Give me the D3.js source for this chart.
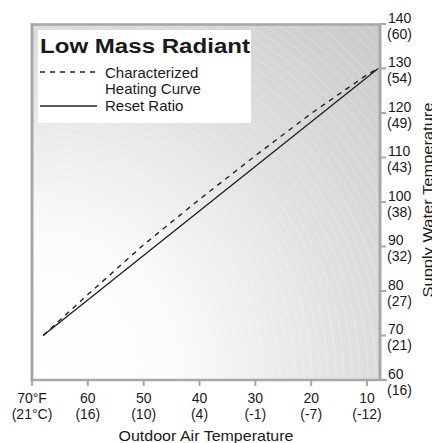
<!DOCTYPE html>
<html><head><meta charset="utf-8">
<script src="https://cdn.jsdelivr.net/npm/d3@7"></script>
<style>body{margin:0;background:#fff}svg{display:block}text{font-family:"Liberation Sans",Arial,Helvetica,sans-serif;fill:#1a1a1a}</style>
</head><body>
<svg id="c" width="432" height="443"></svg>
<script>
const xTicksF = [70,60,50,40,30,20,10];
const xTicksC = ["(21°C)","(16)","(10)","(4)","(-1)","(-7)","(-12)"];
const xTicksTop = ["70°F","60","50","40","30","20","10"];
const yTicksF = [60,70,80,90,100,110,120,130,140];
const yTicksC = ["(16)","(21)","(27)","(32)","(38)","(43)","(49)","(54)","(60)"];
const curveOAT = [68,60,50,40,30,20,10,8];
const curveSWT = [70,79.2,90.4,100.6,110.4,119.9,128.6,130];
const resetOAT = [68,8];
const resetSWT = [70,130];
const titleText = "Low Mass Radiant";
const legendLabels = [["Characterized","Heating Curve"],["Reset Ratio"]];

const svg = d3.select("#c");
const x = d3.scaleLinear().domain([70,10]).range([32,367]);
const y = d3.scaleLinear().domain([60,140]).range([380,24]);
const L=32,R=380,T=24,B=380;

const defs = svg.append("defs");
const g = defs.append("radialGradient").attr("id","bg").attr("gradientUnits","userSpaceOnUse")
  .attr("cx",L).attr("cy",B).attr("r",500);
[[0,"#ffffff"],[0.28,"#fcfcfc"],[0.68,"#dddddd"],[1,"#c9c9c9"]].forEach(s=>g.append("stop").attr("offset",s[0]).attr("stop-color",s[1]));
defs.append("clipPath").attr("id","clip").append("rect").attr("x",L).attr("y",T).attr("width",R-L).attr("height",B-T);

svg.append("rect").attr("x",L).attr("y",T).attr("width",R-L).attr("height",B-T).attr("fill","url(#bg)");
svg.append("g").attr("clip-path","url(#clip)").selectAll("circle").data(d3.range(8,520,8)).join("circle")
  .attr("cx",L).attr("cy",B).attr("r",d=>d).attr("fill","none").attr("stroke","#fff").attr("stroke-opacity",0.35).attr("stroke-width",0.7);

// frame
const fc="#a8a8a8";
svg.append("line").attr("x1",L).attr("x2",L).attr("y1",T-1).attr("y2",B).attr("stroke",fc).attr("stroke-width",3);
svg.append("line").attr("x1",L).attr("x2",R+1).attr("y1",T+0.5).attr("y2",T+0.5).attr("stroke",fc).attr("stroke-width",2.5);
svg.append("line").attr("x1",R).attr("x2",R).attr("y1",T-1).attr("y2",B).attr("stroke",fc).attr("stroke-width",3);
svg.append("line").attr("x1",L-1.5).attr("x2",387).attr("y1",B).attr("y2",B).attr("stroke",fc).attr("stroke-width",2.5);

// x ticks
const xg = svg.append("g");
xTicksF.forEach((v,i)=>{
  xg.append("line").attr("x1",x(v)).attr("x2",x(v)).attr("y1",B).attr("y2",B+6).attr("stroke",fc).attr("stroke-width",2);
  xg.append("text").attr("x",x(v)).attr("y",402.5).attr("text-anchor","middle").attr("font-size",14).text(xTicksTop[i]);
  xg.append("text").attr("x",x(v)).attr("y",418.5).attr("text-anchor","middle").attr("font-size",14).text(xTicksC[i]);
});
svg.append("text").attr("x",206).attr("y",441).attr("text-anchor","middle").attr("font-size",15)
  .attr("textLength",175).attr("lengthAdjust","spacingAndGlyphs").text("Outdoor Air Temperature");

// y ticks
const yg = svg.append("g");
yTicksF.forEach((v,i)=>{
  yg.append("line").attr("x1",R).attr("x2",386).attr("y1",y(v)).attr("y2",y(v)).attr("stroke",fc).attr("stroke-width",2);
  yg.append("text").attr("x",388).attr("y",y(v)-1.5).attr("font-size",14).text(v);
  yg.append("text").attr("x",387).attr("y",y(v)+14.5).attr("font-size",14).text(yTicksC[i]);
});
svg.append("text").attr("transform","translate(433,200) rotate(-90)").attr("text-anchor","middle")
  .attr("font-size",15).attr("textLength",195).attr("lengthAdjust","spacingAndGlyphs").text("Supply Water Temperature");

// lines
const line = d3.line().x(d=>x(d[0])).y(d=>y(d[1]));
svg.append("path").datum(curveOAT.map((o,i)=>[o,curveSWT[i]])).attr("d",line)
  .attr("fill","none").attr("stroke","#222").attr("stroke-width",1.4).attr("stroke-dasharray","5,5");
svg.append("path").datum(resetOAT.map((o,i)=>[o,resetSWT[i]])).attr("d",line)
  .attr("fill","none").attr("stroke","#222").attr("stroke-width",1.4);

// legend
const lg = svg.append("g");
lg.append("rect").attr("x",38).attr("y",30).attr("width",213).attr("height",93).attr("fill","#fff");
lg.append("text").attr("x",40).attr("y",53).attr("font-size",20).attr("font-weight","bold")
  .attr("textLength",210).attr("lengthAdjust","spacingAndGlyphs").text(titleText);
lg.append("line").attr("x1",40).attr("x2",98).attr("y1",72).attr("y2",72).attr("stroke","#222").attr("stroke-width",1.4).attr("stroke-dasharray","5,5");
lg.append("text").attr("x",105).attr("y",78).attr("font-size",15).text(legendLabels[0][0]);
lg.append("text").attr("x",105).attr("y",94).attr("font-size",15).text(legendLabels[0][1]);
lg.append("line").attr("x1",40).attr("x2",97).attr("y1",106).attr("y2",106).attr("stroke","#222").attr("stroke-width",1.4);
lg.append("text").attr("x",105).attr("y",111).attr("font-size",15).text(legendLabels[1][0]);
</script>
</body></html>
